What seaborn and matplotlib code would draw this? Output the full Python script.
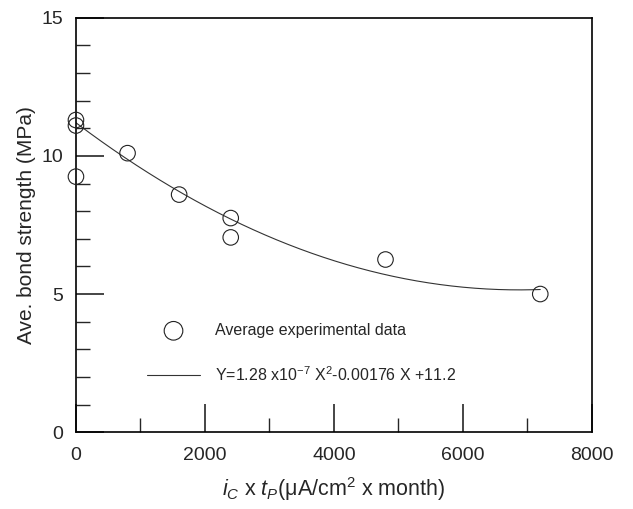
import matplotlib
matplotlib.use("Agg")
import matplotlib.pyplot as plt
from matplotlib.ticker import MultipleLocator
import numpy as np
import pandas as pd
import seaborn as sns

# measured points: corrosion level (uA/cm2 x month) vs bond strength (MPa)
exposure = [0, 0, 0, 800, 1600, 2400, 2400, 4800, 7200]
strength = [11.3, 11.1, 9.25, 10.1, 8.6, 7.75, 7.05, 6.25, 5.0]

# quadratic fit given in the legend
fit_coef = [1.28e-7, -0.00176, 11.2]
fit_range = [0, 7200]

sns.set_style("ticks")
plt.rcParams["font.family"] = ["Liberation Sans", "DejaVu Sans"]
plt.rcParams["mathtext.fontset"] = "custom"
plt.rcParams["mathtext.rm"] = "Liberation Sans"
plt.rcParams["mathtext.it"] = "Liberation Sans:italic"

pts = pd.DataFrame({"x": exposure, "y": strength})
fx = np.linspace(fit_range[0], fit_range[1], 200)
fit = pd.DataFrame({"x": fx, "y": np.polyval(fit_coef, fx)})

fig = plt.figure(figsize=(6.33, 5.09), dpi=100)
ax = fig.add_axes([0.120, 0.151, 0.815, 0.814])

sns.lineplot(data=fit, x="x", y="y", ax=ax, color="#333333", lw=0.8,
             label="Y=1.28 x10$^{-7}$ X$^{2}$-0.00176 X +11.2", zorder=2)
sns.scatterplot(data=pts, x="x", y="y", ax=ax, marker="o", s=125,
                facecolor="none", edgecolor="#222222", linewidth=0.8,
                label="Average experimental data", zorder=3, clip_on=False)

ax.set_xlim(0, 8000)
ax.set_ylim(0, 15)
ax.xaxis.set_major_locator(MultipleLocator(2000))
ax.xaxis.set_minor_locator(MultipleLocator(1000))
ax.yaxis.set_major_locator(MultipleLocator(5))
ax.yaxis.set_minor_locator(MultipleLocator(1))
ax.tick_params(which="major", direction="in", length=20, width=1.2,
               labelsize=14, pad=9, top=False, right=False)
ax.tick_params(axis="x", which="major", pad=11)
ax.tick_params(which="minor", direction="in", length=10, width=1.0,
               top=False, right=False)
for s in ax.spines.values():
    s.set_linewidth(1.2)
    s.set_color("black")

ax.set_xlabel(r"$i_C$ x $t_P$(μA/cm$^2$ x month)", fontsize=15.5, labelpad=8)
ax.set_ylabel("Ave. bond strength (MPa)", fontsize=15, labelpad=4)

h, l = ax.get_legend_handles_labels()
ax.legend(h[::-1], l[::-1], loc="center left", bbox_to_anchor=(0.138, 0.19),
          frameon=False, fontsize=11.5, borderpad=0, borderaxespad=0,
          handlelength=3.3, handletextpad=0.95, labelspacing=1.7, markerscale=1.2)

fig.savefig("out.png", dpi=100)
